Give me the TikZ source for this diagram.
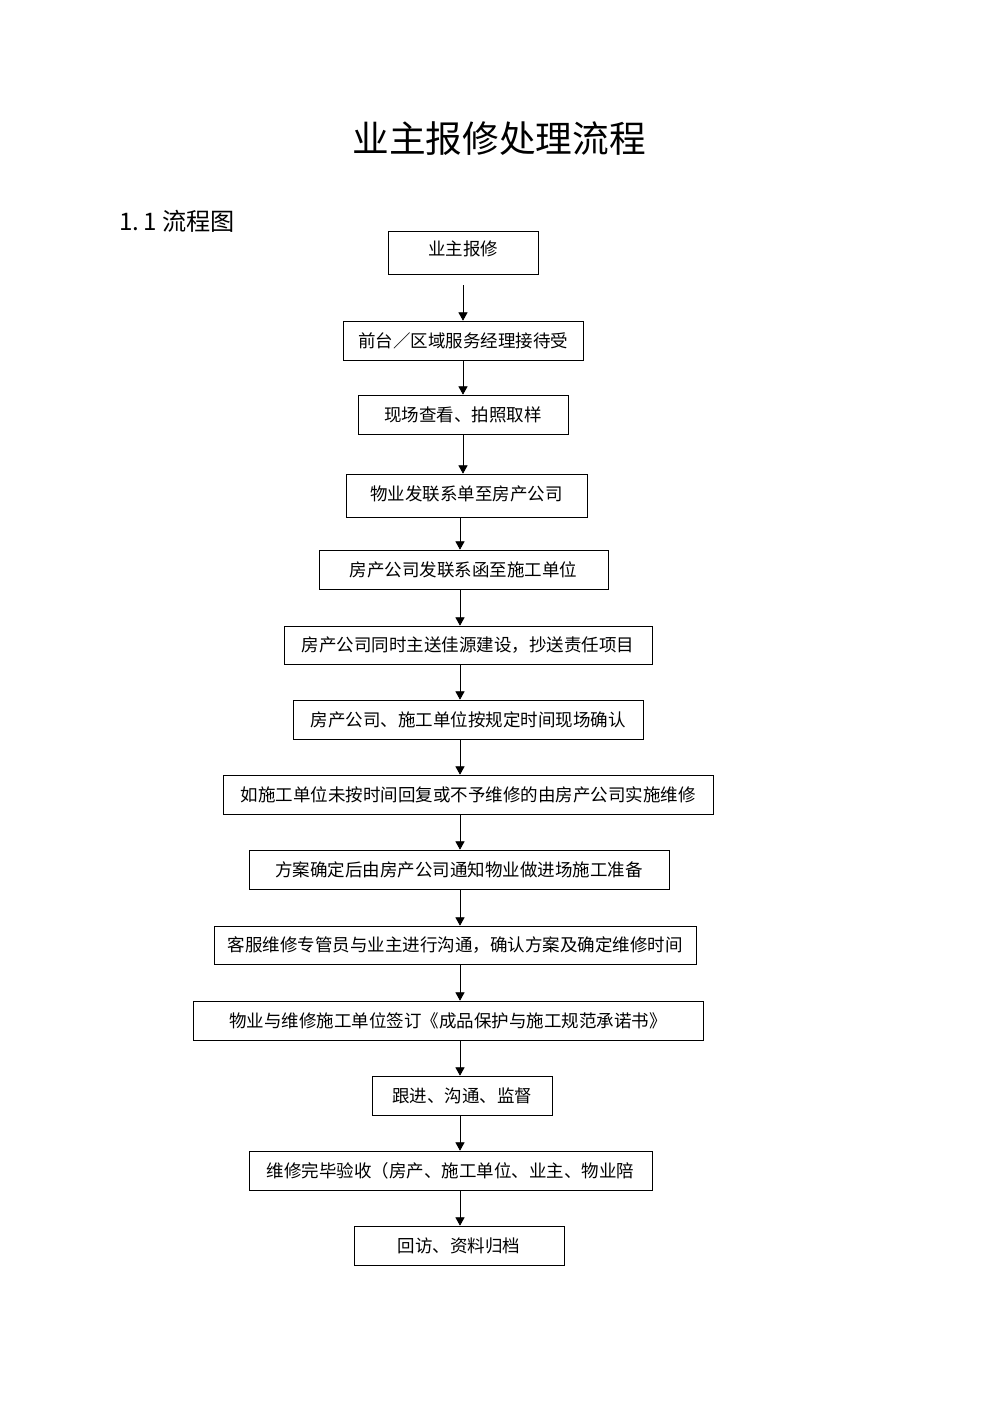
\documentclass[tikz,border=0pt]{standalone}
\usepackage{fontspec}
\newfontfamily\cjk{Noto Sans CJK SC}
\usetikzlibrary{arrows.meta}

\tikzset{
	stepbox/.style={draw, thin, rectangle, inner sep=0pt, font=\cjk\fontsize{10.5pt}{12pt}\selectfont},
	arr/.style={-{Triangle[width=5.5pt,length=5pt]}, thin}
}

\begin{document}
\begin{tikzpicture}[x=0.6pt, y=-0.6pt]
	%\draw [help lines] (0,0) grid (993,1404);
	\useasboundingbox (0,0) rectangle (993,1404);
	
	%TITOLO
	\node (title) [font=\cjk\fontsize{22pt}{26pt}\selectfont] at (499,139) {业主报修处理流程};
	\node (sub) [font=\cjk\fontsize{14.5pt}{17pt}\selectfont, anchor=west, inner sep=0pt] at (119,221) {1.\,1 流程图};
	
	%CASELLE
	\node (b1) [stepbox, minimum width=90pt, minimum height=25.8pt] at (463,252.5) {\raisebox{5pt}{业主报修}};
	\node (b2) [stepbox, minimum width=144pt, minimum height=23.4pt] at (463,340.5) {前台／区域服务经理接待受};
	\node (b3) [stepbox, minimum width=126pt, minimum height=23.4pt] at (463,414.5) {现场查看、拍照取样};
	\node (b4) [stepbox, minimum width=144.6pt, minimum height=25.8pt] at (466.5,495.5) {\raisebox{2.5pt}{物业发联系单至房产公司}};
	\node (b5) [stepbox, minimum width=173.4pt, minimum height=23.4pt] at (463.5,569.5) {房产公司发联系函至施工单位};
	\node (b6) [stepbox, minimum width=220.8pt, minimum height=22.8pt] at (468,645) {房产公司同时主送佳源建设，抄送责任项目};
	\node (b7) [stepbox, minimum width=210pt, minimum height=23.4pt] at (468,719.5) {房产公司、施工单位按规定时间现场确认};
	\node (b8) [stepbox, minimum width=294pt, minimum height=23.4pt] at (468,794.5) {如施工单位未按时间回复或不予维修的由房产公司实施维修};
	\node (b9) [stepbox, minimum width=252pt, minimum height=23.4pt] at (459,869.5) {方案确定后由房产公司通知物业做进场施工准备};
	\node (b10) [stepbox, minimum width=289.2pt, minimum height=22.8pt] at (455,945) {客服维修专管员与业主进行沟通，确认方案及确定维修时间};
	\node (b11) [stepbox, minimum width=306pt, minimum height=23.4pt] at (448,1020.5) {物业与维修施工单位签订《成品保护与施工规范承诺书》};
	\node (b12) [stepbox, minimum width=108pt, minimum height=23.4pt] at (462,1095.5) {跟进、沟通、监督};
	\node (b13) [stepbox, minimum width=241.8pt, minimum height=23.4pt] at (450.5,1170.5) {维修完毕验收（房产、施工单位、业主、物业陪};
	\node (b14) [stepbox, minimum width=126pt, minimum height=23.4pt] at (459,1245.5) {回访、资料归档};
	
	%FRECCE
	\draw [arr, shorten <=6.6pt] (b1.south) -- (b2.north);
	\draw [arr] (b2.south) -- (b3.north);
	\draw [arr] (b3.south) -- (b4.north -| b3.south);
	\draw [arr] (b4.south -| 460,0) -- (b5.north -| 460,0);
	\draw [arr] (b5.south -| 460,0) -- (b6.north -| 460,0);
	\draw [arr] (b6.south -| 460,0) -- (b7.north -| 460,0);
	\draw [arr] (b7.south -| 460,0) -- (b8.north -| 460,0);
	\draw [arr] (b8.south -| 460,0) -- (b9.north -| 460,0);
	\draw [arr] (b9.south -| 460,0) -- (b10.north -| 460,0);
	\draw [arr] (b10.south -| 460,0) -- (b11.north -| 460,0);
	\draw [arr] (b11.south -| 460,0) -- (b12.north -| 460,0);
	\draw [arr] (b12.south -| 460,0) -- (b13.north -| 460,0);
	\draw [arr] (b13.south -| 460,0) -- (b14.north -| 460,0);
	
\end{tikzpicture}
\end{document}
